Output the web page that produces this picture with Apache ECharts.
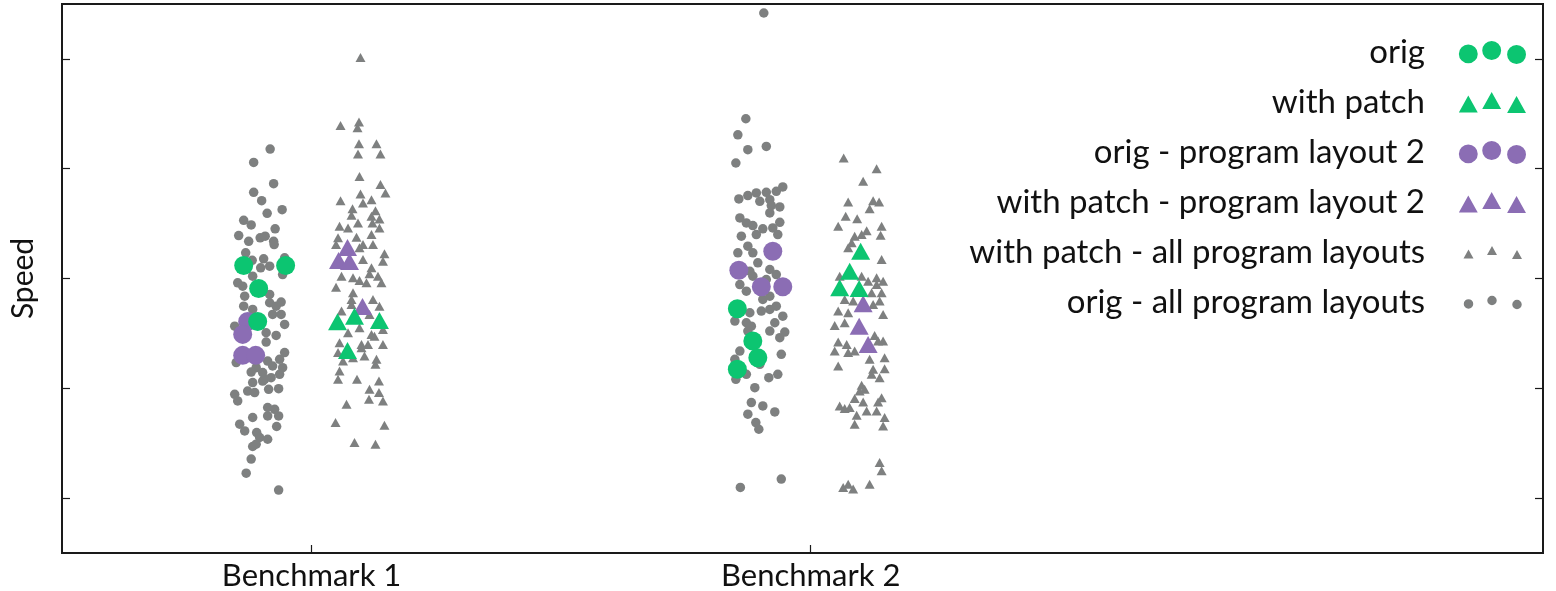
<!DOCTYPE html>
<html>
<head>
<meta charset="utf-8">
<title>Speed per benchmark</title>
<script src="https://cdn.jsdelivr.net/npm/echarts@6/dist/echarts.min.js"></script>
<style>
  html, body { margin: 0; padding: 0; background: #fff; }
  #chart { width: 1556px; height: 591px; }
</style>
</head>
<body>
<div id="chart"></div>
<script>
// Benchmarks on the x axis (position 1 and 2), jittered horizontally per run
const categories = ['Benchmark 1', 'Benchmark 2'];
const yTicks = [0, 1, 2, 3, 4];

// [benchmark position + jitter, speed]
const origAllLayouts = [
  [0.917,3.179],[0.884,3.057],[0.924,2.864],[0.884,2.785],[0.900,2.709],[0.941,2.627],[0.911,2.594],[0.864,2.530],
  [0.879,2.488],[0.927,2.452],[0.854,2.391],[0.874,2.339],[0.897,2.370],[0.907,2.385],[0.924,2.339],[0.925,2.309],
  [0.868,2.234],[0.881,2.166],[0.904,2.179],[0.946,2.188],[0.898,2.097],[0.916,2.112],[0.942,2.036],[0.882,2.021],
  [0.852,1.961],[0.862,1.930],[0.866,1.839],[0.916,1.855],[0.916,1.779],[0.939,1.785],[0.929,1.748],[0.864,1.748],
  [0.882,1.718],[0.922,1.673],[0.939,1.673],[0.846,1.566],[0.946,1.582],[0.909,1.506],[0.929,1.482],[0.909,1.421],
  [0.946,1.325],[0.936,1.264],[0.912,1.248],[0.849,1.234],[0.889,1.188],[0.922,1.203],[0.942,1.188],[0.879,1.148],
  [0.902,1.143],[0.936,1.127],[0.919,1.097],[0.906,1.082],[0.882,1.052],[0.902,1.066],[0.914,0.991],[0.934,0.997],
  [0.872,0.975],[0.886,0.961],[0.846,0.945],[0.852,0.885],[0.912,0.825],[0.926,0.809],[0.912,0.748],[0.934,0.748],
  [0.882,0.734],[0.856,0.673],[0.930,0.652],[0.866,0.612],[0.890,0.597],[0.896,0.552],[0.912,0.536],[0.889,0.491],
  [0.882,0.470],[0.879,0.355],[0.869,0.227],[0.934,0.073],
  [1.906,4.418],[1.870,3.455],[1.854,3.309],[1.874,3.173],[1.911,3.203],[1.850,3.052],[1.944,2.834],[1.931,2.794],
  [1.911,2.785],[1.891,2.779],[1.874,2.755],[1.856,2.725],[1.898,2.703],[1.918,2.718],[1.921,2.664],[1.938,2.652],
  [1.918,2.597],[1.858,2.552],[1.871,2.506],[1.884,2.482],[1.938,2.512],[1.924,2.461],[1.904,2.452],[1.861,2.385],
  [1.891,2.400],[1.934,2.400],[1.874,2.294],[1.854,2.234],[1.884,2.234],[1.894,2.143],[1.878,2.066],[1.884,2.021],
  [1.931,2.036],[1.918,2.082],[1.911,1.991],[1.858,1.945],[1.871,1.885],[1.918,1.839],[1.904,1.809],[1.931,1.748],
  [1.918,1.718],[1.901,1.703],[1.944,1.657],[1.878,1.688],[1.848,1.612],[1.871,1.597],[1.928,1.597],[1.881,1.566],
  [1.918,1.521],[1.948,1.512],[1.938,1.461],[1.874,1.521],[1.858,1.339],[1.848,1.264],[1.898,1.218],[1.941,1.309],
  [1.871,1.127],[1.850,1.082],[1.916,1.097],[1.934,1.127],[1.888,1.006],[1.881,0.870],[1.904,0.839],[1.928,0.785],
  [1.874,0.764],[1.890,0.688],[1.896,0.627],[1.941,0.173],[1.859,0.097]
];

const patchAllLayouts = [
  [1.098,4.012],[1.058,3.394],[1.095,3.425],[1.092,3.373],[1.095,3.227],[1.130,3.227],[1.093,3.134],[1.138,3.134],
  [1.096,2.930],[1.138,2.855],[1.148,2.779],[1.098,2.770],[1.120,2.718],[1.058,2.709],[1.103,2.688],[1.082,2.636],
  [1.128,2.618],[1.080,2.575],[1.120,2.566],[1.136,2.543],[1.093,2.506],[1.056,2.475],[1.073,2.461],[1.122,2.506],
  [1.136,2.461],[1.120,2.400],[1.090,2.375],[1.053,2.370],[1.103,2.309],[1.123,2.309],[1.049,2.309],[1.096,2.279],
  [1.146,2.225],[1.103,2.173],[1.143,2.157],[1.120,2.097],[1.116,2.043],[1.133,2.021],[1.060,2.021],[1.083,2.006],
  [1.096,1.982],[1.110,1.961],[1.140,1.961],[1.049,1.921],[1.083,1.870],[1.080,1.809],[1.123,1.809],[1.136,1.748],
  [1.060,1.703],[1.080,1.764],[1.116,1.673],[1.073,1.506],[1.096,1.552],[1.120,1.491],[1.143,1.536],[1.126,1.475],
  [1.056,1.415],[1.100,1.400],[1.113,1.400],[1.143,1.400],[1.053,1.325],[1.100,1.370],[1.106,1.294],[1.083,1.279],
  [1.063,1.248],[1.130,1.264],[1.128,1.218],[1.056,1.157],[1.053,1.082],[1.091,1.082],[1.135,1.066],[1.116,0.991],
  [1.135,0.961],[1.070,0.855],[1.115,0.900],[1.143,0.885],[1.048,0.688],[1.146,0.664],[1.086,0.506],[1.128,0.491],
  [2.066,3.097],[2.132,3.000],[2.105,2.885],[2.075,2.697],[2.125,2.709],[2.137,2.697],[2.118,2.636],[2.070,2.566],
  [2.093,2.545],[2.055,2.475],[2.142,2.475],[2.112,2.436],[2.140,2.394],[2.088,2.385],[2.102,2.400],[2.082,2.325],
  [2.075,2.279],[2.142,2.173],[2.058,2.021],[2.102,2.021],[2.132,2.006],[2.115,1.975],[2.132,1.945],[2.145,1.975],
  [2.122,1.870],[2.142,1.870],[2.068,1.809],[2.085,1.794],[2.138,1.794],[2.125,1.764],[2.055,1.703],[2.075,1.688],
  [2.145,1.673],[2.068,1.597],[2.048,1.573],[2.055,1.421],[2.072,1.400],[2.088,1.339],[2.128,1.482],[2.145,1.430],
  [2.135,1.430],[2.048,1.339],[2.075,1.325],[2.118,1.264],[2.148,1.279],[2.055,1.203],[2.125,1.173],[2.148,1.179],
  [2.122,1.127],[2.138,1.097],[2.102,1.027],[2.108,0.991],[2.098,0.975],[2.088,0.906],[2.142,0.915],[2.105,0.875],
  [2.135,0.875],[2.058,0.839],[2.078,0.825],[2.068,0.815],[2.112,0.794],[2.132,0.794],[2.092,0.755],[2.148,0.734],
  [2.088,0.673],[2.145,0.657],[2.138,0.325],[2.142,0.248],[2.118,0.127],[2.065,0.097],[2.075,0.127],[2.085,0.082]
];

const orig = [
  [0.864,2.118],[0.948,2.118],[0.894,1.909],[0.892,1.609],
  [1.853,1.725],[1.884,1.430],[1.894,1.279],[1.853,1.173]
];
const withPatch = [
  [1.052,1.606],[1.086,1.657],[1.136,1.618],[1.072,1.345],
  [2.100,2.248],[2.078,2.066],[2.058,1.915],[2.097,1.909]
];
const origLayout2 = [
  [0.872,1.609],[0.862,1.491],[0.862,1.300],[0.888,1.300],
  [1.924,2.248],[1.856,2.075],[1.901,1.925],[1.944,1.925]
];
const patchLayout2 = [
  [1.072,2.282],[1.054,2.164],[1.076,2.155],[1.102,1.745],
  [2.105,1.770],[2.097,1.566],[2.115,1.400]
];

const seriesNames = [
  'orig',
  'with patch',
  'orig - program layout 2',
  'with patch - program layout 2',
  'with patch - all program layouts',
  'orig - all program layouts'
];

const GREEN = '#0cc571';
const PURPLE = '#8b6db4';
const GREY = '#7e8080';
const FONT = 'Lato';

// Legend icon: three markers at staggered heights, with empty room on the left
// so the label sits a little away from the markers.
const ICON_W = 96, ICON_H = 24;
const markerX = [38.5, 62, 87];
const markerY = [13.4, 10, 14];
function legendPath(shape, size) {
  let d = 'M0 0 L0 0 M' + ICON_W + ' ' + ICON_H + ' L' + ICON_W + ' ' + ICON_H + ' ';
  for (let i = 0; i < 3; i++) {
    const cx = markerX[i], cy = markerY[i];
    if (shape === 'circle') {
      const r = size / 2;
      d += 'M' + (cx - r) + ' ' + cy + ' a' + r + ' ' + r + ' 0 1 0 ' + (2 * r) + ' 0 a' + r + ' ' + r + ' 0 1 0 ' + (-2 * r) + ' 0 Z ';
    } else {
      const w = size, h = size * 0.9;
      d += 'M' + cx + ' ' + (cy - h / 2) + ' L' + (cx + w / 2) + ' ' + (cy + h / 2) + ' L' + (cx - w / 2) + ' ' + (cy + h / 2) + ' Z ';
    }
  }
  return 'path://' + d;
}

const chart = echarts.init(document.getElementById('chart'), null, { renderer: 'canvas' });

const tickStyle = { show: true, inside: true, length: 8, lineStyle: { color: '#1a1a1a', width: 1.2 } };
const solid = c => ({ color: c, opacity: 1 });

chart.setOption({
  animation: false,
  backgroundColor: '#ffffff',
  grid: {
    left: 62, right: 13, top: 4, bottom: 35,
    show: true, borderColor: '#1a1a1a', borderWidth: 2, backgroundColor: 'transparent'
  },
  xAxis: {
    type: 'value',
    min: 0.5,
    max: 3.467,
    axisLine: { show: false, onZero: false },
    splitLine: { show: false },
    axisTick: Object.assign({}, tickStyle, { customValues: [1, 2] }),
    axisLabel: {
      customValues: [1, 2],
      formatter: v => categories[Math.round(v) - 1],
      fontFamily: FONT, fontSize: 31, color: '#111', margin: 7
    }
  },
  yAxis: [
    {
      type: 'value',
      min: -0.5,
      max: 4.5,
      name: 'Speed',
      nameLocation: 'middle',
      nameGap: 24,
      nameTextStyle: { fontFamily: FONT, fontSize: 30, color: '#111' },
      axisLine: { show: false, onZero: false },
      splitLine: { show: false },
      axisLabel: { show: false },
      axisTick: Object.assign({}, tickStyle, { customValues: yTicks })
    },
    {
      type: 'value',
      position: 'right',
      min: -0.5,
      max: 4.5,
      axisLine: { show: false, onZero: false },
      splitLine: { show: false },
      axisLabel: { show: false },
      axisTick: Object.assign({}, tickStyle, { customValues: yTicks })
    }
  ],
  legend: {
    orient: 'vertical',
    right: 25,
    top: 31,
    align: 'right',
    itemWidth: ICON_W,
    itemHeight: ICON_H,
    itemGap: 17,
    selectedMode: false,
    textStyle: { fontFamily: FONT, fontSize: 33, color: '#111', lineHeight: 30 },
    data: [
      { name: seriesNames[0], icon: legendPath('circle', 19) },
      { name: seriesNames[1], icon: legendPath('triangle', 19) },
      { name: seriesNames[2], icon: legendPath('circle', 19) },
      { name: seriesNames[3], icon: legendPath('triangle', 19) },
      { name: seriesNames[4], icon: legendPath('triangle', 10) },
      { name: seriesNames[5], icon: legendPath('circle', 9.5) }
    ]
  },
  series: [
    { name: seriesNames[5], type: 'scatter', data: origAllLayouts, symbol: 'circle', symbolSize: 9.5,
      itemStyle: solid(GREY) },
    { name: seriesNames[4], type: 'scatter', data: patchAllLayouts, symbol: 'triangle', symbolSize: [10, 9],
      itemStyle: solid(GREY) },
    { name: seriesNames[2], type: 'scatter', data: origLayout2, symbol: 'circle', symbolSize: 19,
      itemStyle: solid(PURPLE) },
    { name: seriesNames[3], type: 'scatter', data: patchLayout2, symbol: 'triangle', symbolSize: [19, 17],
      itemStyle: solid(PURPLE) },
    { name: seriesNames[0], type: 'scatter', data: orig, symbol: 'circle', symbolSize: 19,
      itemStyle: solid(GREEN) },
    { name: seriesNames[1], type: 'scatter', data: withPatch, symbol: 'triangle', symbolSize: [19, 17],
      itemStyle: solid(GREEN) }
  ]
});
</script>
</body>
</html>
